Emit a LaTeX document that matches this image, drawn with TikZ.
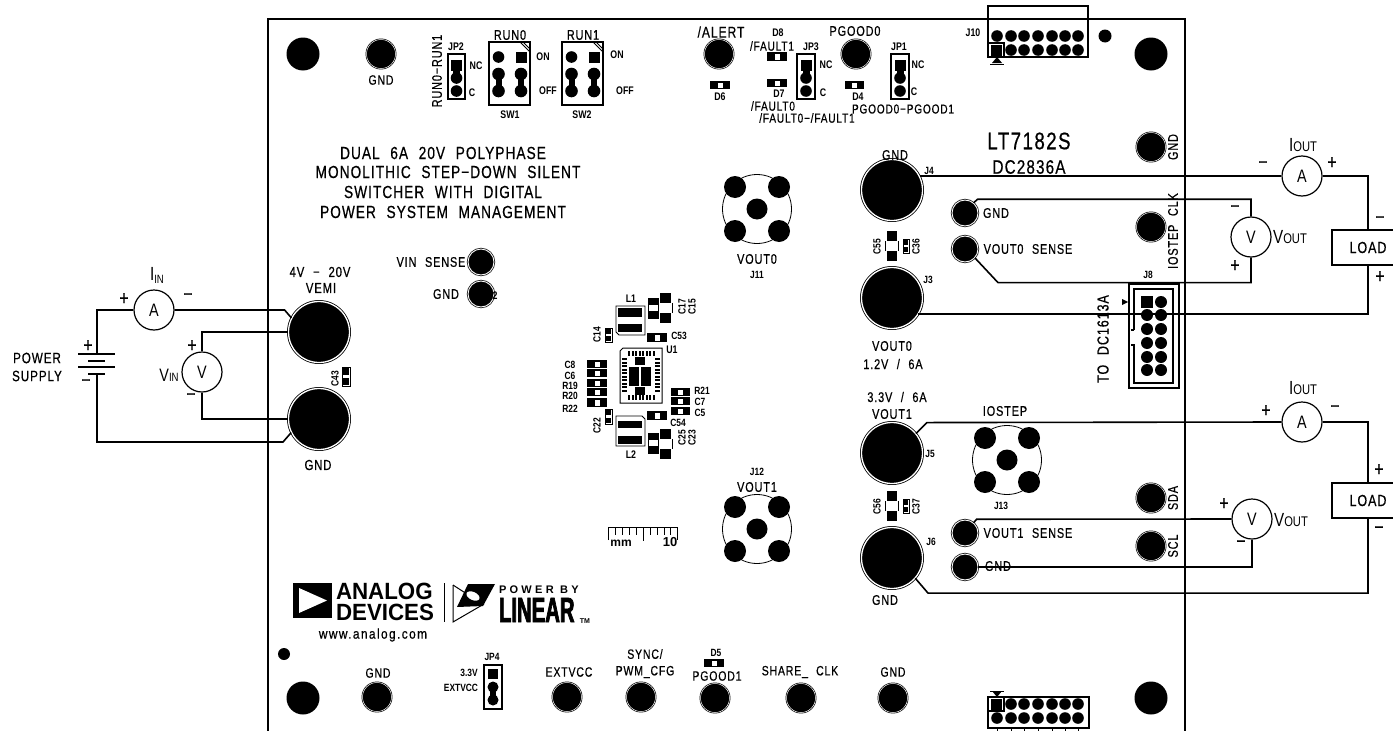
\documentclass[tikz,border=0pt]{standalone}
\usepackage{fontspec}
\setmainfont{Liberation Sans}
\newfontfamily\lblf[FakeStretch=.78,LetterSpace=6,WordSpace=2.2,FakeBold=.5]{Liberation Sans}
\newfontfamily\nrwf[FakeStretch=.8]{Liberation Sans}
\newfontfamily\logof[FakeStretch=.95]{Liberation Sans}
\newfontfamily\linf[FakeStretch=.58,FakeBold=2]{Liberation Sans}
\newfontfamily\webf[FakeStretch=.85,LetterSpace=10,FakeBold=.6]{Liberation Sans}
\newcounter{lb}
\tikzset{
  lbl/.style={inner sep=0pt,outer sep=0pt,anchor=center,align=center,text=black},
  wire/.style={line width=1.6pt,line join=miter},
  boardline/.style={line width=1.8pt},
  mount/.style={circle,fill=black,minimum size=33pt,inner sep=0pt},
  tpoint/.style={circle,fill=black,draw=black,double=white,double distance=.5pt,line width=.7pt,minimum size=29pt,inner sep=0pt},
  tpsmall/.style={circle,fill=black,draw=black,double=white,double distance=.9pt,line width=.7pt,minimum size=26pt,inner sep=0pt},
  bigpost/.style={circle,fill=black,draw=black,double=white,double distance=1.3pt,line width=.8pt,minimum size=61pt,inner sep=0pt},
  meter/.style={circle,draw=black,fill=white,line width=1.2pt,minimum size=40pt,inner sep=0pt},
  loadbox/.style={rectangle,draw=black,fill=white,line width=1.2pt,minimum width=72pt,minimum height=35pt,inner sep=0pt},
  pcbbox/.style={draw=black,line width=1.2pt,fill=white},
  thinbox/.style={draw=black,line width=.8pt},
}
\newcommand\lab[5][]{\stepcounter{lb}\node[lbl,#1] (t\arabic{lb}) at (#2,#3) {\fontsize{#4}{#4}\selectfont\lblf #5};}
\newcommand\slab[5][]{\stepcounter{lb}\node[lbl,#1] (t\arabic{lb}) at (#2,#3) {\fontsize{#4}{#4}\selectfont\nrwf\bfseries #5};}
\newcommand\smtxt[2][11]{{\fontsize{#1}{#1}\selectfont #2}}
% horizontal two-pad part: x1 y1 x2 y2
\newcommand\hsmd[4]{\fill (#1,#2) rectangle (#3,#4);\fill[white] ({(#1+#3)/2-2.5},{#2+1.5}) rectangle ({(#1+#3)/2+2.5},{#4-1.5});}
\newcommand\vsmd[4]{\draw[line width=.8pt] (#1,#2) rectangle (#3,#4);\fill ({#1+1.2},{#2+1.2}) rectangle ({#3-1.2},{(#2+#4)/2-1.2});\fill ({#1+1.2},{(#2+#4)/2+1.2}) rectangle ({#3-1.2},{#4-1.2});}
% jumper: xleft xright ytop ybottom
\newcommand\jumper[4]{\draw[pcbbox] (#1,#3) rectangle (#2,#4);
  \fill ({(#1+#2)/2-5.5},{#3+6}) rectangle ({(#1+#2)/2+5.5},{#3+17});
  \fill ({(#1+#2)/2},{#3+24}) circle (5.8);
  \fill[line width=0pt] ({(#1+#2)/2-3.5},{#3+15}) rectangle ({(#1+#2)/2+3.5},{#3+24});
  \fill ({(#1+#2)/2},{#3+37}) circle (5.8);}
% dip switch: xleft xright ytop ybottom
\newcommand\dipsw[4]{\draw[pcbbox] (#1,#3) rectangle (#2,#4);
  \draw[line width=.8pt] ({#2-10},#3) -- (#2,{#3+10});\draw[line width=.8pt] ({#2-7},#3) -- (#2,{#3+7});
  \fill ({#1+9.5},{#3+15}) circle (5.8);
  \fill ({#1+26.5},{#3+9.5}) rectangle ({#1+37.5},{#3+20.5});
  \foreach \xx in {9.5,32}{%
    \fill ({#1+\xx},{#3+32}) circle (6.3);\fill ({#1+\xx},{#3+49}) circle (6.3);
    \fill ({#1+\xx-3},{#3+32}) rectangle ({#1+\xx+3},{#3+49});}}
% coax cross: x y
\newcommand\coax[2]{\draw[line width=.8pt] (#1,#2) circle (34.5);
  \fill (#1,#2) circle (10.5);
  \foreach \dx/\dy in {-22/-22,22/-22,-22/22,22/22}{\fill ({#1+\dx},{#2+\dy}) circle (11);}}
% big SMD cap
\newcommand\capvert[4]{\fill (#1,#3) rectangle (#2,{#3+10});\fill (#1,{#4-10}) rectangle (#2,#4);
  \draw[line width=.8pt] ({#1-1.5},{#3+10}) -- ({#1-1.5},{#4-10});\draw[line width=.8pt] ({#2+1.5},{#3+10}) -- ({#2+1.5},{#4-10});}
\begin{document}
\begin{tikzpicture}[x=1pt,y=-1pt]
\useasboundingbox (0,0) rectangle (1393,731);
\fill[white] (0,0) rectangle (1393,731);
% board edge
\coordinate (bl) at (268,731);\coordinate (tl) at (268,19);\coordinate (tr) at (1185,19);\coordinate (br) at (1185,731);
\draw[boardline] (bl) -- (tl) -- (tr) -- (br);

% mounting holes
\node[mount] (m1) at (303,54) {};
\node[mount] (m2) at (1151,54) {};
\node[mount] (m3) at (303,698) {};
\node[mount] (m4) at (1151,698) {};
\fill (284,654) circle (6);
\fill (1105,36) circle (6.5);

% test points
\node[tpoint] (tp1) at (381,54) {};
\node[tpoint] (tp2) at (719,54) {};
\node[tpoint] (tp3) at (856,54) {};
\node[tpoint] (tp4) at (1151,147) {};
\node[tpoint] (tp5) at (1151,227) {};
\node[tpoint] (tp6) at (1151,498) {};
\node[tpoint] (tp7) at (1151,546) {};
\node[tpoint] (tp8) at (377,697) {};
\node[tpoint] (tp9) at (567,697) {};
\node[tpoint] (tp10) at (641,697) {};
\node[tpoint] (tp11) at (715,698) {};
\node[tpoint] (tp12) at (801,698) {};
\node[tpoint] (tp13) at (893,698) {};
\node[tpsmall] (tpvin) at (481,262) {};
\node[tpsmall] (tpgin) at (481,294) {};
\node[tpsmall] (tpg0) at (965,213) {};
\node[tpsmall] (tpv0) at (965,249) {};
\node[tpsmall] (tpv1) at (965,533) {};
\node[tpsmall] (tpg1) at (965,567) {};

% large posts
\node[bigpost] (vemi) at (319,332) {};
\node[bigpost] (gndin) at (319,419) {};
\node[bigpost] (j4) at (892,190) {};
\node[bigpost] (j3) at (892,298) {};
\node[bigpost] (j5) at (892,453) {};
\node[bigpost] (j6) at (892,558) {};

% coax
\coax{757}{209}
\coax{757}{529}
\coax{1007}{460}

% jumpers and switches
\jumper{448}{465}{54}{99}
\jumper{797}{815}{54}{99}
\jumper{891}{909}{54}{99}
\dipsw{489}{530}{42}{105}
\dipsw{562}{603}{42}{105}
% JP4
\draw[pcbbox] (484,665) rectangle (502,709);
\fill (488,669) rectangle (498,679);
\fill (493,687) circle (5.5);\fill (493,700) circle (5.5);\fill (490,687) rectangle (496,700);

% LEDs
\hsmd{710}{81}{730}{89}
\hsmd{767}{52}{787}{61}
\hsmd{767}{79}{787}{87}
\hsmd{845}{81}{864}{89}
\hsmd{704}{659}{724}{667}

% connectors J10 / J9
\draw[pcbbox,fill=none] (988,6) rectangle (1088,57);
\foreach \xx in {997,1011,1024,1038,1052,1065,1078}{\fill (\xx,36) circle (5.8);}
\foreach \xx in {1011,1024,1038,1052,1065,1078}{\fill (\xx,50) circle (5.8);}
\draw[pcbbox,fill=none] (988,43) rectangle (1004,57);
\fill (991,45) rectangle (1002,56);
\fill (992,63) -- (997,57) -- (1002,63) -- cycle;
\draw[line width=.8pt] (990,64) -- (1004,64);

\draw[pcbbox,fill=none] (988,697) rectangle (1089,728);
\foreach \xx in {1011,1024,1038,1052,1065,1078}{\fill (\xx,704) circle (5.8);}
\foreach \xx in {997,1011,1024,1038,1052,1065,1078}{\fill (\xx,718) circle (5.8);\draw[line width=.9pt] (\xx,728) -- (\xx,731);}
\draw[pcbbox,fill=none] (988,697) rectangle (1004,711);
\fill (991,699) rectangle (1002,710);
\fill (992,691) -- (997,697) -- (1002,691) -- cycle;
\draw[line width=.8pt] (990,691) -- (1004,691);

% J8
\draw[pcbbox,fill=none] (1129,284) rectangle (1179,388);
\draw[line width=1.2pt] (1134,330) -- (1134,289) -- (1173,289) -- (1173,383) -- (1134,383) -- (1134,345) -- (1131,345);
\draw[line width=1.2pt] (1134,330) -- (1131,330);
\foreach \yy in {315,329,343,357,370}{\fill (1147,\yy) circle (6);\fill (1161,\yy) circle (6);}
\fill (1161,302) circle (6);
\fill (1141,296) rectangle (1153,308);
\fill (1122,299) -- (1128,302) -- (1122,305) -- cycle;

% power stage
\draw[line width=.9pt] (616,306) -- (645,306) -- (645,335) -- (619,335) -- (616,332) -- cycle;
\fill (618,308) rectangle (642,317);\fill (618,324) rectangle (642,332);
\draw[line width=.9pt] (616,416) -- (642,416) -- (645,419) -- (645,446) -- (616,446) -- cycle;
\fill (618,421) rectangle (642,428);\fill (618,436) rectangle (642,444);
\capvert{660}{671}{293}{323}
\capvert{660}{671}{429}{459}
\fill (648,298) rectangle (658,305);\fill (648,311) rectangle (658,318);\draw[line width=.8pt] (648,298) rectangle (658,318);
\fill (648,433) rectangle (658,440);\fill (648,446) rectangle (658,453);\draw[line width=.8pt] (648,433) rectangle (658,453);
\vsmd{605}{328}{612}{342}
\vsmd{605}{409}{612}{424}
\hsmd{647}{333}{667}{342}
\hsmd{647}{411}{667}{420}
% left stack
\hsmd{587}{360}{607}{368}
\hsmd{587}{369}{607}{377}
\hsmd{587}{379}{607}{387}
\hsmd{587}{388}{607}{396}
\hsmd{587}{398}{607}{407}
% right stack
\hsmd{671}{388}{690}{396}
\hsmd{671}{397}{690}{405}
\hsmd{671}{407}{690}{415}
% U1
\draw[line width=1pt] (623,348) -- (662,348) -- (662,403) -- (620,403) -- (620,351) -- cycle;
\fill (635,357) rectangle (645,365);
\fill (629,367) rectangle (639,386);
\fill (641,367) rectangle (651,386);
\fill (635,387) rectangle (645,395);
\foreach \xx in {628,631.5,635,638.5,642,645.5,649,652.5}{\fill (\xx,351) rectangle ({\xx+2},356);\fill (\xx,395) rectangle ({\xx+2},400);}
\foreach \yy in {358,361.5,365,368.5,372,375.5,379,382.5,386,389.5}{\fill (622,\yy) rectangle (627,{\yy+2});\fill (655,\yy) rectangle (660,{\yy+2});}

% C55/C36 C56/C37 C43
\capvert{887}{897}{231}{261}
\vsmd{903}{239}{909}{253}
\capvert{887}{897}{491}{521}
\vsmd{903}{499}{909}{513}
\vsmd{342}{367}{350}{386}

% ruler
\draw[line width=.8pt] (608,540) -- (608,527) -- (677,527) -- (677,540);
\foreach \xx in {615,622,629,636,650,657,664,670}{\draw[line width=.8pt] (\xx,527) -- (\xx,535);}
\draw[line width=.8pt] (643,527) -- (643,541);

% meters
\node[meter] (am1) at (154,310) {\fontsize{18}{18}\selectfont\nrwf A};
\node[meter] (vm1) at (202,372) {\fontsize{18}{18}\selectfont\nrwf V};
\node[meter] (am2) at (1302,176) {\fontsize{18}{18}\selectfont\nrwf A};
\node[meter] (vm2) at (1251,237) {\fontsize{18}{18}\selectfont\nrwf V};
\node[meter] (am3) at (1302,422) {\fontsize{18}{18}\selectfont\nrwf A};
\node[meter] (vm3) at (1252,519) {\fontsize{18}{18}\selectfont\nrwf V};
\node[loadbox] (load1) at (1368,247.5) {\fontsize{16}{16}\selectfont\lblf LOAD};
\node[loadbox] (load2) at (1368,500.5) {\fontsize{16}{16}\selectfont\lblf LOAD};

% battery
\coordinate (batp) at (97,354);\coordinate (batn) at (97,374);
\draw[wire] (78,354) -- (115,354);
\draw[wire] (88,361) -- (105,361);
\draw[wire] (78,367) -- (115,367);
\draw[wire] (88,374) -- (105,374);

% wires left
\draw[wire] (am1.west) -| (batp);
\draw[wire] (am1.east) -- ++(110,0) -- (vemi.153);
\draw[wire] (batn) -- ++(0,68) -- ++(186,0) -- (gndin.206);
\draw[wire] (vm1.north) |- (vemi.west);
\draw[wire] (vm1.south) |- (gndin.west);
% wires upper right
\draw[wire] (am2.west) -- (am2.west -| j4.27);
\draw[wire] (am2.east) -| (load1.north);
\draw[wire] (load1.south) |- (j3.329);
\draw[wire] (tpg0.50) -- ++(4,-3.5) -| (vm2.north);
\draw[wire] (vm2.south) -- ++(0,25) -- ++(-253,0) -- (tpv0.-42);
% wires lower right
\draw[wire] (j5.39) -- ++(11,-11) -- (am3.west);
\draw[wire] (am3.east) -| (load2.north);
\draw[wire] (load2.south) -- ++(0,74.5) -- ++(-440,0) -- (j6.-41);
\draw[wire] (tpv1.50) -- ++(3,-3.5) -- (vm3.west);
\draw[wire] (vm3.south) |- (tpg1.east);

% left labels
\lab{37}{358}{15}{POWER}
\lab{37}{376}{15}{SUPPLY}
\lab{88}{346}{20}{+}
\lab{86}{383}{20}{−}
\lab{124}{299}{20}{+}
\lab{188}{297}{20}{−}
\lab{192}{346}{20}{+}
\lab{191}{397}{20}{−}
\stepcounter{lb}\node[lbl] (t\arabic{lb}) at (157,275) {\fontsize{19}{19}\selectfont\nrwf I\raisebox{-3pt}{\fontsize{12}{12}\selectfont IN}};
\stepcounter{lb}\node[lbl] (t\arabic{lb}) at (169,375) {\fontsize{18}{18}\selectfont\nrwf V\fontsize{12}{12}\selectfont IN};
\lab{320}{272}{14.5}{4V − 20V}
\lab{321}{288}{14.5}{VEMI}
\lab{318}{465}{14.5}{GND}
\slab[rotate=90]{335}{379}{10.5}{C43}
\lab{431}{262}{14}{VIN SENSE}
\lab{446}{294}{14}{GND}
\slab{495}{296}{11}{2}

% top labels
\lab{381}{80}{13.5}{GND}
\lab[rotate=90]{437}{71}{14}{RUN0−RUN1}
\slab{456}{47}{11}{JP2}
\slab{476}{66}{11}{NC}
\slab{472}{93}{11}{C}
\lab{510}{35}{14}{RUN0}
\lab{583}{35}{14}{RUN1}
\slab{543}{57}{11}{ON}
\slab{548}{91}{11}{OFF}
\slab{510}{115}{11}{SW1}
\slab{617}{55}{11}{ON}
\slab{625}{91}{11}{OFF}
\slab{582}{115}{11}{SW2}
\lab{721}{32}{15.5}{/ALERT}
\slab{720}{97}{11}{D6}
\slab{778}{33}{11}{D8}
\lab{772}{46}{13}{/FAULT1}
\slab{779}{94}{11}{D7}
\lab{773}{106}{13}{/FAULT0}
\lab{807}{118}{13}{/FAULT0−/FAULT1}
\slab{811}{47}{11}{JP3}
\slab{826}{65}{11}{NC}
\slab{823}{93}{11}{C}
\lab{855}{31}{14}{PGOOD0}
\slab{858}{97}{11}{D4}
\lab{903}{109}{13}{PGOOD0−PGOOD1}
\slab{899}{47}{11}{JP1}
\slab{918}{65}{11}{NC}
\slab{914}{92}{11}{C}
\slab{973}{33}{11}{J10}

% description
\lab{443}{153}{17.5}{DUAL 6A 20V POLYPHASE}
\lab{448}{172}{17.5}{MONOLITHIC STEP−DOWN SILENT}
\lab{443}{192}{17.5}{SWITCHER WITH DIGITAL}
\lab{443}{212}{17.5}{POWER SYSTEM MANAGEMENT}
\lab{1029}{141}{24}{LT7182S}
\lab{1029}{167}{19.5}{DC2836A}

% center labels
\lab{757}{259}{14}{VOUT0}
\slab{757}{275}{10.5}{J11}
\slab{757}{472}{10.5}{J12}
\lab{757}{487}{14}{VOUT1}
\slab{631}{299}{11}{L1}
\slab[rotate=90]{682}{307}{10.5}{C17}
\slab[rotate=90]{692}{307}{10.5}{C15}
\slab[rotate=90]{597}{335}{10.5}{C14}
\slab{679}{336}{10.5}{C53}
\slab{672}{350}{11}{U1}
\slab{570}{365}{10.5}{C8}
\slab{570}{376}{10.5}{C6}
\slab{570}{386}{10.5}{R19}
\slab{570}{396}{10.5}{R20}
\slab{570}{409}{10.5}{R22}
\slab{702}{391}{10.5}{R21}
\slab{700}{402}{10.5}{C7}
\slab{700}{413}{10.5}{C5}
\slab{678}{423}{10.5}{C54}
\slab[rotate=90]{597}{426}{10.5}{C22}
\slab{631}{455}{11}{L2}
\slab[rotate=90]{682}{438}{10.5}{C25}
\slab[rotate=90]{692}{438}{10.5}{C23}
\stepcounter{lb}\node[lbl] (t\arabic{lb}) at (621,543) {\fontsize{12}{12}\selectfont\bfseries mm};
\stepcounter{lb}\node[lbl] (t\arabic{lb}) at (670,542) {\fontsize{13}{13}\selectfont\bfseries 10};

% right labels
\lab{895}{155}{14}{GND}
\slab{929}{171}{10.5}{J4}
\slab{928}{280}{10.5}{J3}
\lab{892}{346}{14}{VOUT0}
\lab{893}{364}{14}{1.2V / 6A}
\lab{897}{397}{14}{3.3V / 6A}
\lab{892}{414}{14}{VOUT1}
\slab{930}{454}{10.5}{J5}
\slab{931}{542}{10.5}{J6}
\lab{885}{600}{14}{GND}
\lab{1005}{411}{14}{IOSTEP}
\slab{1001}{506}{10.5}{J13}
\slab[rotate=90]{877}{247}{10.5}{C55}
\slab[rotate=90]{916}{247}{10.5}{C36}
\slab[rotate=90]{877}{507}{10.5}{C56}
\slab[rotate=90]{916}{507}{10.5}{C37}
\lab{996}{213}{14}{GND}
\lab{1028}{249}{14}{VOUT0 SENSE}
\lab{1028}{533}{14}{VOUT1 SENSE}
\lab{998}{566}{14}{GND}
\lab[rotate=90]{1173}{147}{14}{GND}
\lab[rotate=90]{1173}{231}{14}{IOSTEP CLK}
\lab[rotate=90]{1173}{498}{14}{SDA}
\lab[rotate=90]{1173}{546}{14}{SCL}
\slab{1148}{275}{10.5}{J8}
\lab[rotate=90]{1103}{339}{16}{TO DC1613A}

\stepcounter{lb}\node[lbl] (t\arabic{lb}) at (1303,145) {\fontsize{19}{19}\selectfont\nrwf I\smtxt[14]{OUT}};
\stepcounter{lb}\node[lbl] (t\arabic{lb}) at (1303,388) {\fontsize{19}{19}\selectfont\nrwf I\smtxt[14]{OUT}};
\stepcounter{lb}\node[lbl] (t\arabic{lb}) at (1290,237) {\fontsize{19}{19}\selectfont\nrwf V\smtxt[14]{OUT}};
\stepcounter{lb}\node[lbl] (t\arabic{lb}) at (1291,520) {\fontsize{19}{19}\selectfont\nrwf V\smtxt[14]{OUT}};
\lab{1263}{165}{20}{−}
\lab{1332}{163}{20}{+}
\lab{1235}{209}{20}{−}
\lab{1235}{266}{20}{+}
\lab{1380}{220}{20}{−}
\lab{1380}{277}{20}{+}
\lab{1266}{411}{20}{+}
\lab{1335}{409}{20}{−}
\lab{1224}{504}{20}{+}
\lab{1241}{544}{20}{−}
\lab{1379}{470}{20}{+}
\lab{1379}{530}{20}{−}

% bottom labels
\lab{378}{673}{13.5}{GND}
\slab{492}{657}{10.5}{JP4}
\slab{469}{673}{10.5}{3.3V}
\slab{461}{688}{10.5}{EXTVCC}
\lab{569}{672}{13.5}{EXTVCC}
\lab{645}{654}{13.5}{SYNC/}
\lab{645}{672}{13.5}{PWM\_CFG}
\slab{716}{653}{10.5}{D5}
\lab{717}{676}{13.5}{PGOOD1}
\lab{800}{672}{13.5}{SHARE\_ CLK}
\lab{893}{672}{13.5}{GND}

% logos
\fill (293,583) rectangle (332,618);
\fill[white] (299,588) -- (327,600.5) -- (299,613) -- cycle;
\stepcounter{lb}\node[lbl,anchor=west] (t\arabic{lb}) at (336,591) {\fontsize{23.5}{23.5}\selectfont\logof\bfseries ANALOG};
\stepcounter{lb}\node[lbl,anchor=west] (t\arabic{lb}) at (336,612.5) {\fontsize{23.5}{23.5}\selectfont\logof\bfseries DEVICES};
\draw[line width=1pt] (444,583) -- (444,622);
\draw[line width=1pt] (453,585) -- (453,622) -- (484,604);
\draw[line width=1pt] (453,585) -- (470,596);
\fill (468,584) -- (495,584) -- (483,606) -- (457,607) -- cycle;
\fill[white,rotate around={-25:(473,596)}] (473,596) ellipse (7 and 4);
\stepcounter{lb}\node[lbl,anchor=west] (t\arabic{lb}) at (499,590) {\fontsize{11}{11}\selectfont\bfseries\addfontfeature{LetterSpace=30}POWER BY};
\stepcounter{lb}\node[lbl,anchor=west] (t\arabic{lb}) at (499,610) {\fontsize{35}{35}\selectfont\linf\bfseries LINEAR};
\stepcounter{lb}\node[lbl] (t\arabic{lb}) at (585,621) {\fontsize{7}{7}\selectfont\bfseries TM};
\stepcounter{lb}\node[lbl] (t\arabic{lb}) at (373,635) {\fontsize{14}{14}\selectfont\webf www.analog.com};
\end{tikzpicture}
\end{document}
